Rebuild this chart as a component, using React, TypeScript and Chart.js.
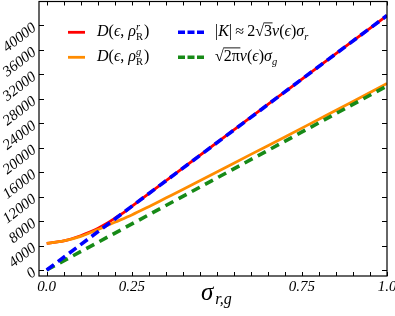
import React, { useEffect, useRef } from "react";
import { Chart, registerables } from "chart.js";

Chart.register(...registerables);

// ---- data ----
const sigmaRed = [0, 0.05, 0.1, 0.125, 0.15, 0.175, 0.2, 0.225, 0.25, 0.3, 0.35, 0.4, 0.5, 0.6, 0.7, 0.8, 0.9, 1.0];
const redD = [4350, 4750, 5600, 6150, 6800, 7550, 8450, 9350, 10400, 12500, 14580, 16660, 20810, 24970, 29130, 33290, 37440, 41600];

const sigmaOrange = [0, 0.05, 0.1, 0.15, 0.2, 0.25, 0.3, 0.35, 0.4, 0.5, 0.6, 0.7, 0.8, 0.9, 1.0];
const orangeD = [4350, 4750, 5500, 6600, 7800, 9000, 10350, 11750, 13150, 16000, 18900, 21750, 24650, 27550, 30500];

const sigmaLine = [0, 1.0];
const blueK = [0, 41600];
const greenG = [0, 30080];

const yTickValues = [0, 4000, 8000, 12000, 16000, 20000, 24000, 28000, 32000, 36000, 40000];
const yTickLabels = ["0", "4000", "8000", "12000", "16000", "20000", "24000", "28000", "32000", "36000", "40000"];
const xTickValues = [0, 0.05, 0.1, 0.15, 0.2, 0.25, 0.3, 0.35, 0.4, 0.45, 0.5, 0.55, 0.6, 0.65, 0.7, 0.75, 0.8, 0.85, 0.9, 0.95, 1.0];
const xLabelValues = [0, 0.25, 0.75, 1.0];
const xLabelTexts = ["0.0", "0.25", "0.75", "1.0"];

const RED = "#ff0000";
const ORANGE = "#ff8c00";
const BLUE = "#0000ff";
const GREEN = "#178a17";

const SERIF = '"Liberation Serif", "DejaVu Serif", serif';

type Run = {
  t?: string;
  size: number;
  it?: boolean;
  bar?: boolean;
  sup?: { t: string; it?: boolean };
  sub?: { t: string; it?: boolean };
};

function font(size: number, it?: boolean) {
  return `${it ? "italic " : ""}${size}px ${SERIF}`;
}

function drawRuns(ctx: CanvasRenderingContext2D, x: number, y: number, runs: Run[]) {
  let cx = x;
  ctx.textAlign = "left";
  ctx.textBaseline = "alphabetic";
  for (const r of runs) {
    if (r.sup || r.sub) {
      let w = 0;
      if (r.sup) {
        ctx.font = font(r.size, r.sup.it);
        ctx.fillText(r.sup.t, cx, y - r.size * 0.6);
        w = Math.max(w, ctx.measureText(r.sup.t).width);
      }
      if (r.sub) {
        ctx.font = font(r.size, r.sub.it);
        ctx.fillText(r.sub.t, cx, y + r.size * 0.35);
        w = Math.max(w, ctx.measureText(r.sub.t).width);
      }
      cx += w + 1;
    } else if (r.t) {
      ctx.font = font(r.size, r.it);
      ctx.fillText(r.t, cx, y);
      const w = ctx.measureText(r.t).width;
      if (r.bar) {
        ctx.save();
        ctx.lineWidth = 0.9;
        ctx.strokeStyle = "#000";
        ctx.beginPath();
        ctx.moveTo(cx - 0.5, y - r.size * 0.82);
        ctx.lineTo(cx + w + 0.5, y - r.size * 0.82);
        ctx.stroke();
        ctx.restore();
      }
      cx += w;
    }
  }
  return cx;
}

const decor = {
  id: "decor",
  afterDraw(chart: any) {
    const ctx: CanvasRenderingContext2D = chart.ctx;
    const xs = chart.scales.x;
    const ys = chart.scales.y;
    const a = chart.chartArea;
    ctx.save();
    ctx.strokeStyle = "#000";
    ctx.fillStyle = "#000";
    ctx.lineWidth = 1.2;
    ctx.strokeRect(a.left, a.top, a.right - a.left, a.bottom - a.top);

    ctx.lineWidth = 1;
    ctx.beginPath();
    for (const v of xTickValues) {
      const px = Math.round(xs.getPixelForValue(v)) + 0.5;
      ctx.moveTo(px, a.bottom);
      ctx.lineTo(px, a.bottom - 4);
      ctx.moveTo(px, a.top);
      ctx.lineTo(px, a.top + 4);
    }
    for (const v of yTickValues) {
      const py = Math.round(ys.getPixelForValue(v)) + 0.5;
      ctx.moveTo(a.left, py);
      ctx.lineTo(a.left + 5, py);
      ctx.moveTo(a.right, py);
      ctx.lineTo(a.right - 5, py);
    }
    ctx.stroke();

    // x tick labels
    ctx.font = font(15, true);
    ctx.textAlign = "center";
    ctx.textBaseline = "middle";
    xLabelValues.forEach((v, i) => {
      ctx.fillText(xLabelTexts[i], xs.getPixelForValue(v), 287);
    });

    // y tick labels (rotated)
    ctx.textAlign = "right";
    yTickValues.forEach((v, i) => {
      const py = ys.getPixelForValue(v);
      ctx.save();
      ctx.translate(34.5, py + 1);
      ctx.rotate((-38 * Math.PI) / 180);
      ctx.fillText(yTickLabels[i], 0, 0);
      ctx.restore();
    });

    // axis title
    ctx.textAlign = "left";
    ctx.textBaseline = "alphabetic";
    ctx.font = font(25, true);
    ctx.fillText("σ", 201, 300);
    const sw = ctx.measureText("σ").width;
    ctx.font = font(16, true);
    ctx.fillText("r,g", 201 + sw + 2, 304);

    // legend
    const sampleSolid = (x0: number, x1: number, y: number, c: string) => {
      ctx.save();
      ctx.strokeStyle = c;
      ctx.lineWidth = 2.8;
      ctx.beginPath();
      ctx.moveTo(x0, y);
      ctx.lineTo(x1, y);
      ctx.stroke();
      ctx.restore();
    };
    const sampleDash = (x0: number, x1: number, y: number, c: string) => {
      ctx.save();
      ctx.strokeStyle = c;
      ctx.lineWidth = 3.6;
      ctx.setLineDash([7, 2.5]);
      ctx.beginPath();
      ctx.moveTo(x0, y);
      ctx.lineTo(x1, y);
      ctx.stroke();
      ctx.restore();
    };
    sampleSolid(68, 85, 32.3, RED);
    sampleSolid(68, 85, 57.3, ORANGE);
    sampleDash(178, 204, 32.3, BLUE);
    sampleDash(178, 204, 57.3, GREEN);

    ctx.fillStyle = "#000";
    const S = 16;
    const s = 10.5;
    drawRuns(ctx, 97, 36, [
      { t: "D", size: S, it: true },
      { t: "(", size: S },
      { t: "ϵ", size: S, it: true },
      { t: ", ", size: S },
      { t: "ρ", size: S, it: true },
      { size: s, sup: { t: "r", it: true }, sub: { t: "R" } },
      { t: ")", size: S },
    ]);
    drawRuns(ctx, 97, 61, [
      { t: "D", size: S, it: true },
      { t: "(", size: S },
      { t: "ϵ", size: S, it: true },
      { t: ", ", size: S },
      { t: "ρ", size: S, it: true },
      { size: s, sup: { t: "g", it: true }, sub: { t: "R" } },
      { t: ")", size: S },
    ]);
    drawRuns(ctx, 215, 36, [
      { t: "|", size: S },
      { t: "K", size: S, it: true },
      { t: "|\u2009≈\u20092", size: S },
      { t: "√", size: S },
      { t: "3", size: S, bar: true },
      { t: "ν", size: S, it: true },
      { t: "(", size: S },
      { t: "ϵ", size: S, it: true },
      { t: ")", size: S },
      { t: "σ", size: S, it: true },
      { size: s, sub: { t: "r", it: true } },
    ]);
    drawRuns(ctx, 215, 61, [
      { t: "√", size: S },
      { t: "2π", size: S, bar: true },
      { t: "ν", size: S, it: true },
      { t: "(", size: S },
      { t: "ϵ", size: S, it: true },
      { t: ")", size: S },
      { t: "σ", size: S, it: true },
      { size: s, sub: { t: "g", it: true } },
    ]);
    ctx.restore();
  },
};

export default function App() {
  const ref = useRef<HTMLCanvasElement | null>(null);
  useEffect(() => {
    document.body.style.margin = "0";
    if (!ref.current) return;
    const pts = (xs: number[], ys: number[]) => xs.map((x, i) => ({ x, y: ys[i] }));
    const chart = new Chart(ref.current, {
      type: "line",
      data: {
        datasets: [
          {
            label: "|K|",
            data: pts(sigmaLine, blueK),
            borderColor: BLUE,
            borderWidth: 3.6,
            borderDash: [9, 5],
            pointRadius: 0,
            fill: false,
          },
          {
            label: "sqrt(2pi)",
            data: pts(sigmaLine, greenG),
            borderColor: GREEN,
            borderWidth: 3.6,
            borderDash: [9, 6],
            pointRadius: 0,
            fill: false,
          },
          {
            label: "D g",
            data: pts(sigmaOrange, orangeD),
            borderColor: ORANGE,
            borderWidth: 2.8,
            pointRadius: 0,
            cubicInterpolationMode: "monotone",
            fill: false,
          },
          {
            label: "D r",
            data: pts(sigmaRed, redD),
            borderColor: RED,
            borderWidth: 2.8,
            pointRadius: 0,
            cubicInterpolationMode: "monotone",
            fill: false,
          },
        ],
      } as any,
      options: {
        animation: false,
        responsive: false,
        events: [],
        layout: { padding: { left: 39, right: 8, top: 1.5, bottom: 40 } },
        scales: {
          x: { type: "linear", min: -0.0226, max: 1.0, display: false },
          y: { type: "linear", min: -981, max: 43890, display: false },
        },
        plugins: { legend: { display: false }, tooltip: { enabled: false } },
      } as any,
      plugins: [decor],
    });
    return () => chart.destroy();
  }, []);
  return (
    <div style={{ position: "fixed", left: 0, top: 0, width: 395, height: 316, background: "#fff" }}>
      <canvas ref={ref} width={395} height={316} style={{ display: "block" }} />
    </div>
  );
}
